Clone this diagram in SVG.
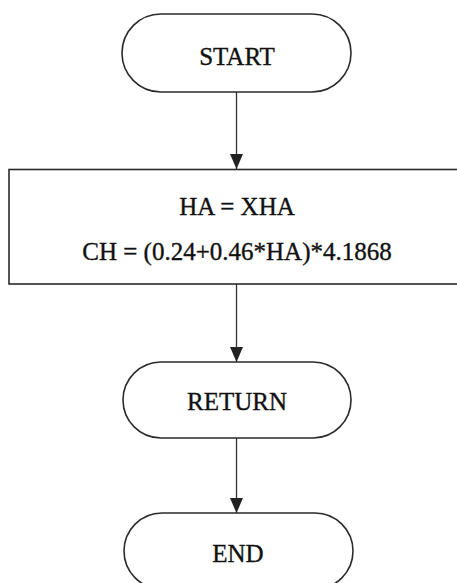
<svg xmlns="http://www.w3.org/2000/svg" width="457" height="583" viewBox="0 0 457 583">
  <defs>
    <marker id="arrow" viewBox="0 0 15 13" refX="15" refY="6.5" markerWidth="15" markerHeight="13" markerUnits="userSpaceOnUse" orient="auto">
      <path d="M0,0 L15,6.5 L0,13 Z" fill="#222"/>
    </marker>
    <style>
      .shape { fill: #ffffff; stroke: #2a2a2a; stroke-width: 1.6; }
      .label { font-family: "Liberation Serif", "Times New Roman", serif; font-size: 25px; fill: #111; stroke: #111; stroke-width: 0.35; text-anchor: middle; }
      .edge { stroke: #333; stroke-width: 1.3; fill: none; marker-end: url(#arrow); }
    </style>
  </defs>
  <rect width="457" height="583" fill="#ffffff"/>

  <g id="connectors">
    <line class="edge" x1="236.5" y1="92" x2="236.5" y2="169"/>
    <line class="edge" x1="236.5" y1="284" x2="236.5" y2="362"/>
    <line class="edge" x1="236.5" y1="438" x2="236.5" y2="513"/>
  </g>

  <g id="start">
    <rect class="shape" x="122" y="14" width="229" height="78" rx="39" ry="39"/>
    <text class="label" x="237" y="65">START</text>
  </g>

  <g id="compute">
    <rect class="shape" x="9" y="169.5" width="460" height="114.5"/>
    <text class="label" x="237" y="215">HA = XHA</text>
    <text class="label" x="237" y="260">CH = (0.24+0.46*HA)*4.1868</text>
  </g>

  <g id="return">
    <rect class="shape" x="123" y="362" width="228" height="76" rx="38" ry="38"/>
    <text class="label" x="237" y="410">RETURN</text>
  </g>

  <g id="end">
    <rect class="shape" x="124" y="513" width="229" height="76" rx="38" ry="38"/>
    <text class="label" x="238" y="562">END</text>
  </g>
</svg>
